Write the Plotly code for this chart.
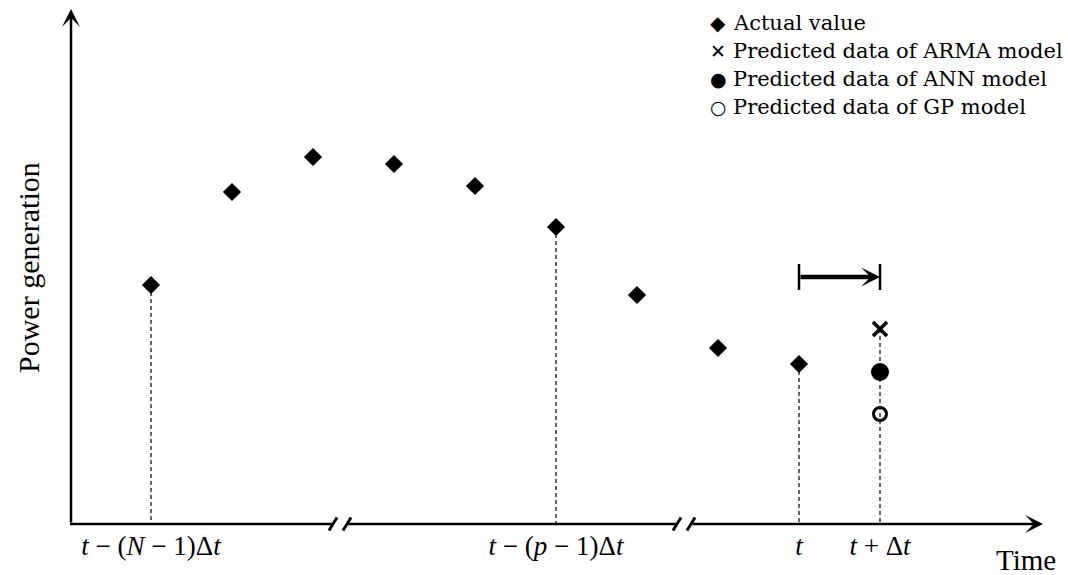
import plotly.graph_objects as go

# ---------------- data ----------------
steps = [0, 1, 2, 3, 4, 5, 6, 7, 8]                      # actual value time steps
actual = [47.8, 66.4, 73.4, 72.0, 67.6, 59.4, 45.8, 35.2, 32.0]
pred_step = [9]                                          # t + Δt
arma = [39.0]
ann = [30.4]
gp = [22.0]
guide_steps = [0, 5, 8]                                  # actual points with dashed guides
tick_steps = [0, 5, 8, 9]
tick_labels = [
    "<i>t</i> − (<i>N</i> − 1)Δ<i>t</i>",
    "<i>t</i> − (<i>p</i> − 1)Δ<i>t</i>",
    "<i>t</i>",
    "<i>t</i> + Δ<i>t</i>",
]
legend_labels = ["Actual value", "Predicted data of ARMA model",
                 "Predicted data of ANN model", "Predicted data of GP model"]
legend_symbols = ["◆", "✕", "●", "○"]

# ---------------- geometry ----------------
W, H = 1068, 575
X0_PX, DX = 151, 81.0        # pixel of step 0, pixels per step
Y0_PX, DY = 524, 5.0         # pixel of value 0, pixels per unit
def sx(px):  # pixel -> step units
    return (px - X0_PX) / DX
def sy(py):  # pixel -> value units
    return (Y0_PX - py) / DY
def dxs(p):
    return p / DX
def dys(p):
    return p / DY

SERIF = "Liberation Serif, Times New Roman, serif"
AXIS_X = sx(71)
X_TIP = sx(1043)
Y_TIP = sy(9)
BREAKS = [sx(340), sx(684)]
HALF_GAP = dxs(7)

fig = go.Figure()

# dashed guide lines (from the data)
gx, gy = [], []
for s in guide_steps:
    gx += [steps[s], steps[s], None]
    gy += [actual[s], 0, None]
for i, s in enumerate(pred_step):
    gx += [s, s, None]
    gy += [arma[i], 0, None]
fig.add_trace(go.Scatter(x=gx, y=gy, mode="lines", showlegend=False,
                         line=dict(color="black", width=1.2, dash="4px,3px"),
                         hoverinfo="skip"))

fig.add_trace(go.Scatter(x=steps, y=actual, mode="markers", name=legend_labels[0],
                         marker=dict(symbol="diamond", size=14, color="black")))
fig.add_trace(go.Scatter(x=pred_step, y=arma, mode="markers", name=legend_labels[1],
                         marker=dict(symbol="x-thin-open", size=14, color="black",
                                     line=dict(color="black", width=3.5))))
fig.add_trace(go.Scatter(x=pred_step, y=ann, mode="markers", name=legend_labels[2],
                         marker=dict(symbol="circle", size=18, color="black")))
fig.add_trace(go.Scatter(x=pred_step, y=gp, mode="markers", name=legend_labels[3],
                         marker=dict(symbol="circle-open", size=13, color="black",
                                     line=dict(color="black", width=3))))

shapes = []
line_st = dict(color="black", width=2.5)
# x-axis segments with break marks
shapes.append(dict(type="line", xref="x", yref="y", x0=AXIS_X - dxs(1), x1=BREAKS[0] - HALF_GAP,
                   y0=0, y1=0, line=line_st))
shapes.append(dict(type="line", xref="x", yref="y", x0=BREAKS[0] + HALF_GAP, x1=BREAKS[1] - HALF_GAP,
                   y0=0, y1=0, line=line_st))
for b in BREAKS:
    for c in (b - HALF_GAP, b + HALF_GAP):
        shapes.append(dict(type="line", xref="x", yref="y",
                           x0=c - dxs(4), x1=c + dxs(4), y0=-dys(6.5), y1=dys(6.5),
                           line=dict(color="black", width=2.8)))
# Δt bracket end bars
BR_Y = sy(277)
for s in (8, 9):
    shapes.append(dict(type="line", xref="x", yref="y", x0=s, x1=s,
                       y0=BR_Y - dys(13), y1=BR_Y + dys(13),
                       line=dict(color="black", width=2.5)))

annotations = []
# x-axis final segment with arrow
annotations.append(dict(x=X_TIP, y=0, ax=BREAKS[1] + HALF_GAP, ay=0, xref="x", yref="y",
                        axref="x", ayref="y", text="", showarrow=True, arrowhead=3,
                        arrowsize=1.2, arrowwidth=2.5, arrowcolor="black"))
# y-axis with arrow
annotations.append(dict(x=AXIS_X, y=Y_TIP, ax=AXIS_X, ay=0, xref="x", yref="y",
                        axref="x", ayref="y", text="", showarrow=True, arrowhead=3,
                        arrowsize=1.2, arrowwidth=2.5, arrowcolor="black"))
# Δt arrow
annotations.append(dict(x=9, y=BR_Y, ax=8, ay=BR_Y, xref="x", yref="y",
                        axref="x", ayref="y", text="", showarrow=True, arrowhead=3,
                        arrowsize=0.7, arrowwidth=4.5, arrowcolor="black"))
# axis titles
annotations.append(dict(x=1026 / W, y=1 - 560 / H, xref="paper", yref="paper",
                        text="Time", showarrow=False, xanchor="center", yanchor="middle",
                        font=dict(family=SERIF, size=29, color="black")))
annotations.append(dict(x=28 / W, y=1 - 268 / H, xref="paper", yref="paper",
                        text="Power generation", showarrow=False, textangle=-90,
                        xanchor="center", yanchor="middle",
                        font=dict(family=SERIF, size=30, color="black")))
# legend (text block)
row_y = [23, 51, 79, 107]
sym_sizes = [20, 19, 19, 19]
for i, (sym, lab) in enumerate(zip(legend_symbols, legend_labels)):
    annotations.append(dict(x=718 / W, y=1 - row_y[i] / H, xref="paper", yref="paper",
                            text="<b>%s</b>" % sym if i in (1, 3) else sym,
                            showarrow=False, xanchor="center", yanchor="middle",
                            font=dict(family="DejaVu Sans", size=sym_sizes[i], color="black")))
    annotations.append(dict(x=731 / W, y=1 - row_y[i] / H, xref="paper", yref="paper",
                            text=lab, showarrow=False, xanchor="left", yanchor="middle",
                            font=dict(family="DejaVu Serif", size=21, color="black")))

fig.update_layout(
    width=W, height=H,
    margin=dict(l=0, r=0, t=0, b=0),
    paper_bgcolor="white", plot_bgcolor="white",
    showlegend=False,
    shapes=shapes, annotations=annotations,
    xaxis=dict(range=[sx(0), sx(W)], showgrid=False, zeroline=False, showline=False,
               anchor="free", position=(H - Y0_PX) / H,
               tickmode="array", tickvals=tick_steps, ticktext=tick_labels,
               ticks="", ticklabelstandoff=3,
               tickfont=dict(family=SERIF, size=27, color="black"),
               fixedrange=True),
    yaxis=dict(range=[sy(H), sy(0)], showgrid=False, zeroline=False, showline=False,
               showticklabels=False, fixedrange=True),
)

fig.write_html("out.html")
